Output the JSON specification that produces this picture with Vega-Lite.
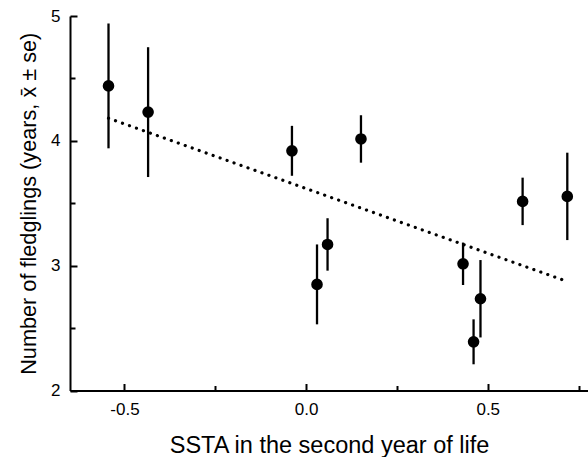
{
  "$schema": "https://vega.github.io/schema/vega-lite/v6.json",
  "width": 518,
  "height": 374.5,
  "autosize": {"type": "none"},
  "padding": {"left": 70, "top": 16, "right": 0, "bottom": 66.5},
  "background": "white",
  "config": {
    "view": {"stroke": null},
    "font": "Liberation Sans",
    "axis": {
      "domainColor": "black",
      "domainWidth": 2,
      "tickColor": "black",
      "tickWidth": 2,
      "grid": false,
      "labelColor": "black",
      "labelFont": "Liberation Sans",
      "labelFontSize": 17,
      "titleColor": "black",
      "titleFont": "Liberation Sans",
      "titleFontSize": 22,
      "titleFontWeight": "normal"
    }
  },
  "datasets": {
    "cohorts": [
      {"ssta": -0.544, "mean": 4.44, "se": 0.5},
      {"ssta": -0.435, "mean": 4.23, "se": 0.52},
      {"ssta": -0.039, "mean": 3.92, "se": 0.2},
      {"ssta": 0.030, "mean": 2.85, "se": 0.32},
      {"ssta": 0.059, "mean": 3.17, "se": 0.21},
      {"ssta": 0.151, "mean": 4.015, "se": 0.19},
      {"ssta": 0.432, "mean": 3.015, "se": 0.17},
      {"ssta": 0.461, "mean": 2.39, "se": 0.18},
      {"ssta": 0.480, "mean": 2.735, "se": 0.31},
      {"ssta": 0.596, "mean": 3.515, "se": 0.19},
      {"ssta": 0.719, "mean": 3.555, "se": 0.35}
    ],
    "fit": [
      {"ssta": -0.544, "mean": 4.181},
      {"ssta": 0.72, "mean": 2.872}
    ]
  },
  "layer": [
    {
      "data": {"name": "fit"},
      "mark": {"type": "line", "color": "black", "strokeWidth": 3.2, "strokeCap": "round", "strokeDash": [0.1, 7.3]},
      "encoding": {
        "x": {"field": "ssta", "type": "quantitative", "scale": {"domain": [-0.65, 0.776], "nice": false, "zero": false},
          "axis": {
            "title": "SSTA in the second year of life",
            "titleFontSize": 23.5,
            "values": [-0.5, -0.25, 0, 0.25, 0.5, 0.75],
            "tickSize": {"condition": {"test": "datum.value % 0.5 === 0", "value": -7}, "value": -5},
            "labelPadding": 18,
            "labelExpr": "datum.value % 0.5 === 0 ? replace(format(datum.value, '.1f'), '\u2212', '-') : ''",
            "titlePadding": 16
          }
        },
        "y": {"field": "mean", "type": "quantitative", "scale": {"domain": [2, 5], "nice": false, "zero": false},
          "axis": {
            "title": "Number of fledglings (years, x\u0304 \u00b1 se)",
            "titleFontSize": 21.7,
            "values": [2, 2.5, 3, 3.5, 4, 4.5, 5],
            "tickSize": {"condition": {"test": "datum.value % 1 === 0", "value": -7}, "value": -5},
            "labelPadding": 17,
            "labelExpr": "datum.value % 1 === 0 ? format(datum.value, 'd') : ''",
            "titlePadding": 10
          }
        }
      }
    },
    {
      "data": {"name": "cohorts"},
      "transform": [
        {"calculate": "datum.mean - datum.se", "as": "lo"},
        {"calculate": "datum.mean + datum.se", "as": "hi"}
      ],
      "mark": {"type": "rule", "color": "black", "strokeWidth": 2.3},
      "encoding": {
        "x": {"field": "ssta", "type": "quantitative"},
        "y": {"field": "lo", "type": "quantitative"},
        "y2": {"field": "hi"}
      }
    },
    {
      "data": {"name": "cohorts"},
      "mark": {"type": "point", "filled": true, "color": "black", "opacity": 1, "size": 135},
      "encoding": {
        "x": {"field": "ssta", "type": "quantitative"},
        "y": {"field": "mean", "type": "quantitative"}
      }
    }
  ]
}
